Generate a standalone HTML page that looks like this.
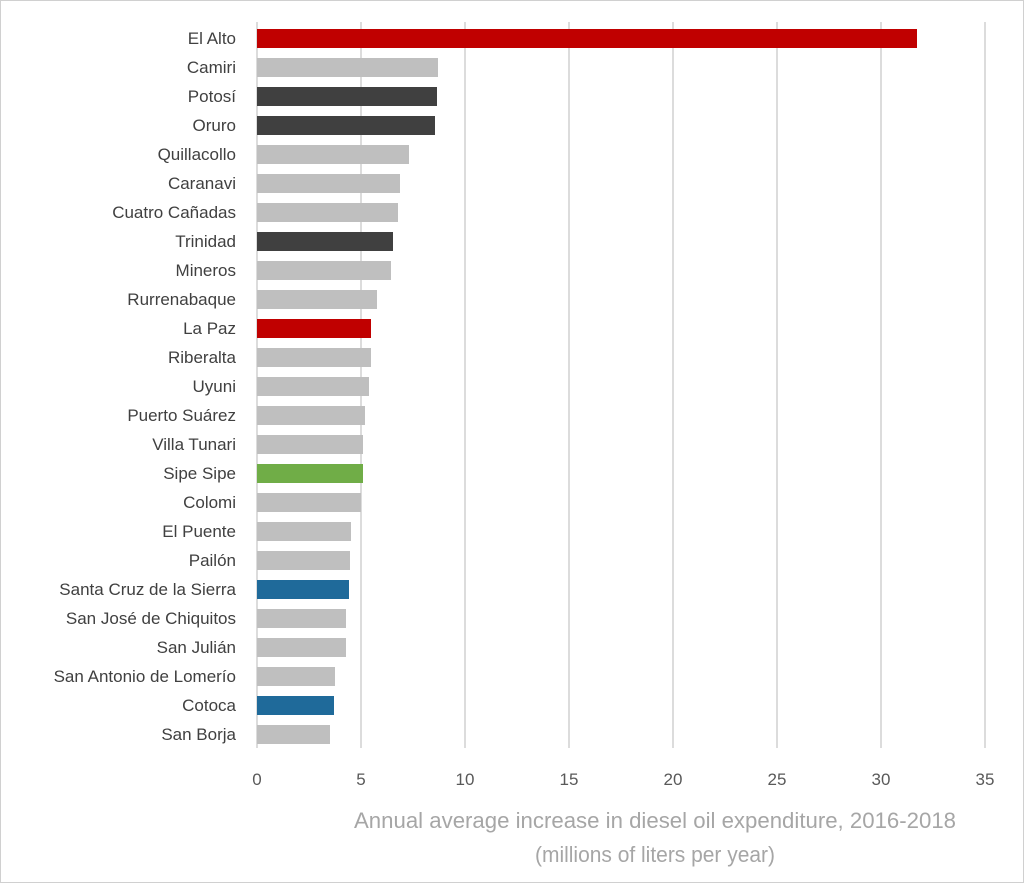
<!DOCTYPE html>
<html><head><meta charset="utf-8"><style>
html,body{margin:0;padding:0;background:#fff;}
svg{display:block;font-family:"Liberation Sans",sans-serif;}
</style></head><body>
<svg width="1024" height="883" viewBox="0 0 1024 883" xmlns="http://www.w3.org/2000/svg">
<rect x="0.5" y="0.5" width="1023" height="882" fill="#fff" stroke="#d0d0d0"/>
<g stroke="#dcdcdc" stroke-width="2">
<line x1="257" y1="22" x2="257" y2="748"/>
<line x1="361" y1="22" x2="361" y2="748"/>
<line x1="465" y1="22" x2="465" y2="748"/>
<line x1="569" y1="22" x2="569" y2="748"/>
<line x1="673" y1="22" x2="673" y2="748"/>
<line x1="777" y1="22" x2="777" y2="748"/>
<line x1="881" y1="22" x2="881" y2="748"/>
<line x1="985" y1="22" x2="985" y2="748"/>
</g>
<g font-size="17" fill="#404040" text-anchor="end">
<text x="236" y="44">El Alto</text>
<text x="236" y="73">Camiri</text>
<text x="236" y="102">Potosí</text>
<text x="236" y="131">Oruro</text>
<text x="236" y="160">Quillacollo</text>
<text x="236" y="189">Caranavi</text>
<text x="236" y="218">Cuatro Cañadas</text>
<text x="236" y="247">Trinidad</text>
<text x="236" y="276">Mineros</text>
<text x="236" y="305">Rurrenabaque</text>
<text x="236" y="334">La Paz</text>
<text x="236" y="363">Riberalta</text>
<text x="236" y="392">Uyuni</text>
<text x="236" y="421">Puerto Suárez</text>
<text x="236" y="450">Villa Tunari</text>
<text x="236" y="479">Sipe Sipe</text>
<text x="236" y="508">Colomi</text>
<text x="236" y="537">El Puente</text>
<text x="236" y="566">Pailón</text>
<text x="236" y="595">Santa Cruz de la Sierra</text>
<text x="236" y="624">San José de Chiquitos</text>
<text x="236" y="653">San Julián</text>
<text x="236" y="682">San Antonio de Lomerío</text>
<text x="236" y="711">Cotoca</text>
<text x="236" y="740">San Borja</text>
</g>
<g>
<rect x="257" y="29" width="660" height="19" fill="#c00000"/>
<rect x="257" y="58" width="181" height="19" fill="#bfbfbf"/>
<rect x="257" y="87" width="180" height="19" fill="#404040"/>
<rect x="257" y="116" width="178" height="19" fill="#404040"/>
<rect x="257" y="145" width="152" height="19" fill="#bfbfbf"/>
<rect x="257" y="174" width="143" height="19" fill="#bfbfbf"/>
<rect x="257" y="203" width="141" height="19" fill="#bfbfbf"/>
<rect x="257" y="232" width="136" height="19" fill="#404040"/>
<rect x="257" y="261" width="134" height="19" fill="#bfbfbf"/>
<rect x="257" y="290" width="120" height="19" fill="#bfbfbf"/>
<rect x="257" y="319" width="114" height="19" fill="#c00000"/>
<rect x="257" y="348" width="114" height="19" fill="#bfbfbf"/>
<rect x="257" y="377" width="112" height="19" fill="#bfbfbf"/>
<rect x="257" y="406" width="108" height="19" fill="#bfbfbf"/>
<rect x="257" y="435" width="106" height="19" fill="#bfbfbf"/>
<rect x="257" y="464" width="106" height="19" fill="#70ad47"/>
<rect x="257" y="493" width="104" height="19" fill="#bfbfbf"/>
<rect x="257" y="522" width="94" height="19" fill="#bfbfbf"/>
<rect x="257" y="551" width="93" height="19" fill="#bfbfbf"/>
<rect x="257" y="580" width="92" height="19" fill="#1f6a9a"/>
<rect x="257" y="609" width="89" height="19" fill="#bfbfbf"/>
<rect x="257" y="638" width="89" height="19" fill="#bfbfbf"/>
<rect x="257" y="667" width="78" height="19" fill="#bfbfbf"/>
<rect x="257" y="696" width="77" height="19" fill="#1f6a9a"/>
<rect x="257" y="725" width="73" height="19" fill="#bfbfbf"/>
</g>
<g font-size="17" fill="#595959" text-anchor="middle">
<text x="257" y="785">0</text>
<text x="361" y="785">5</text>
<text x="465" y="785">10</text>
<text x="569" y="785">15</text>
<text x="673" y="785">20</text>
<text x="777" y="785">25</text>
<text x="881" y="785">30</text>
<text x="985" y="785">35</text>
</g>
<g font-size="22" fill="#a6a6a6" text-anchor="middle" font-family="'Liberation Sans Narrow','Liberation Sans',sans-serif">
<text x="655" y="828" textLength="602" lengthAdjust="spacingAndGlyphs">Annual average increase in diesel oil expenditure, 2016-2018</text>
<text x="655" y="862" textLength="240" lengthAdjust="spacingAndGlyphs">(millions of liters per year)</text>
</g>
</svg>
</body></html>
